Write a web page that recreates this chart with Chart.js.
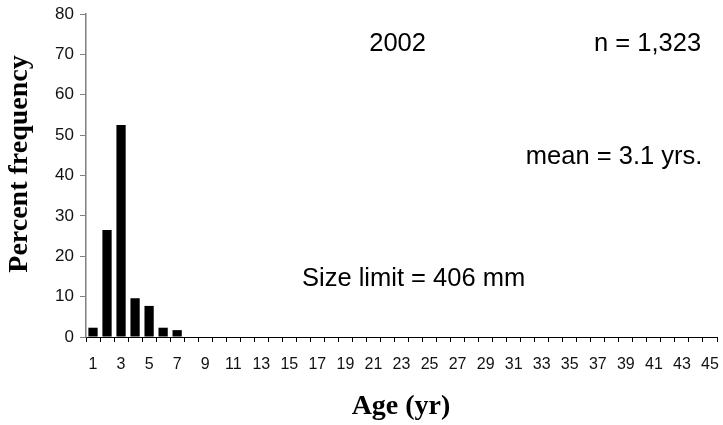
<!DOCTYPE html>
<html>
<head>
<meta charset="utf-8">
<script src="https://cdn.jsdelivr.net/npm/chart.js@4/dist/chart.umd.min.js"></script>
<style>
  html, body { margin: 0; padding: 0; background: #fff; }
  #wrap { width: 723px; height: 425px; }
</style>
</head>
<body>
<div id="wrap"><canvas id="ageChart"></canvas></div>
<script>
// ages 1..45
const ages = [1, 2, 3, 4, 5, 6, 7, 8, 9, 10, 11, 12, 13, 14, 15, 16, 17, 18, 19, 20, 21, 22, 23,
  24, 25, 26, 27, 28, 29, 30, 31, 32, 33, 34, 35, 36, 37, 38, 39, 40, 41, 42, 43, 44, 45];
// percent frequency per age class (2002)
const pctFreq = [2.3, 26.5, 52.5, 9.6, 7.7, 2.3, 1.7, 0, 0, 0, 0, 0, 0, 0, 0, 0, 0, 0, 0, 0, 0, 0, 0,
  0, 0, 0, 0, 0, 0, 0, 0, 0, 0, 0, 0, 0, 0, 0, 0, 0, 0, 0, 0, 0, 0];
const yTicks = [0, 10, 20, 30, 40, 50, 60, 70, 80];

// text notes in data units: [text, age, percent]
const notes = [
  ['2002', 22.72, 72.6],
  ['n = 1,323', 40.55, 72.6],
  ['mean = 3.1 yrs.', 38.16, 44.6],
  ['Size limit = 406 mm', 23.86, 14.4]
];

const sans = '"Liberation Sans", Arial, sans-serif';
const serif = '"Liberation Serif", "Times New Roman", serif';

const textPlugin = {
  id: 'texts',
  afterDraw(chart) {
    const c = chart.ctx;
    const xs = chart.scales.x, ys = chart.scales.y;
    c.save();
    c.fillStyle = '#000';
    c.textAlign = 'center';
    c.textBaseline = 'middle';
    c.font = '25.5px ' + sans;
    notes.forEach(n => {
      c.fillText(n[0], xs.getPixelForValue(n[1] - 1), ys.getPixelForValue(n[2]));
    });
    // axis titles
    c.font = 'bold 28px ' + serif;
    c.fillText('Age (yr)', 401, 407);
    c.translate(20, 164);
    c.rotate(-Math.PI / 2);
    c.fillText('Percent frequency', 0, 0);
    c.restore();
  }
};

new Chart(document.getElementById('ageChart'), {
  type: 'bar',
  data: {
    labels: ages,
    datasets: [{
      data: pctFreq,
      backgroundColor: '#000',
      barPercentage: 0.66,
      categoryPercentage: 1.0
    }]
  },
  options: {
    responsive: true,
    maintainAspectRatio: false,
    animation: false,
    layout: { padding: { top: 14, right: 6, left: 0, bottom: 0 } },
    plugins: { legend: { display: false }, tooltip: { enabled: false } },
    scales: {
      x: {
        afterFit: s => { s.height = 88; s.paddingLeft = 0; s.paddingRight = 0; },
        grid: { display: true, drawOnChartArea: false, offset: true, tickLength: 5, color: '#000' },
        border: { display: true, color: '#000' },
        ticks: {
          autoSkip: false, maxRotation: 0, padding: 13,
          color: '#111',
          font: { family: sans, size: 16 },
          callback: function (v, i) { return i % 2 === 0 ? ages[i] : ''; }
        }
      },
      y: {
        min: 0, max: 80,
        afterFit: s => { s.width = 86; s.paddingTop = 0; s.paddingBottom = 0; },
        afterBuildTicks: s => { s.ticks = yTicks.map(v => ({ value: v })); },
        grid: { display: true, drawOnChartArea: false, tickLength: 6, color: '#808080' },
        border: { display: true, color: '#808080', width: 1.5 },
        ticks: {
          padding: 6, color: '#111',
          font: { family: sans, size: 17 }
        }
      }
    }
  },
  plugins: [textPlugin]
});
</script>
</body>
</html>
